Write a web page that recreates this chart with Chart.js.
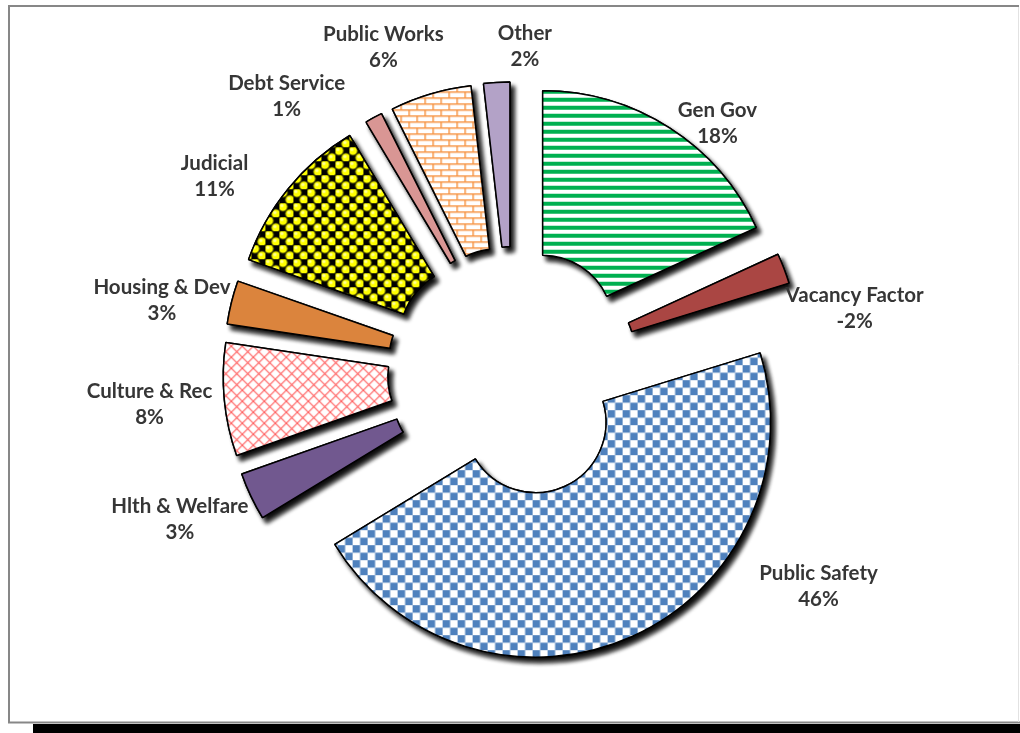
<!DOCTYPE html>
<html>
<head>
<meta charset="utf-8">
<script src="https://cdn.jsdelivr.net/npm/chart.js@4.4.0/dist/chart.umd.min.js"></script>
<style>
  body { margin: 0; background: #fff; }
  canvas { display: block; }
</style>
</head>
<body>
<canvas id="chart-gastos" width="1020" height="733"></canvas>
<script>
// Datos del grafico
var labelsGasto = ['Gen Gov', 'Vacancy Factor', 'Public Safety', 'Hlth & Welfare', 'Culture & Rec',
                   'Housing & Dev', 'Judicial', 'Debt Service', 'Public Works', 'Other'];
var dataGasto = [18.2, -2.1, 46.2, 3.3, 7.8, 3.0, 11.1, 1.2, 5.6, 1.8];

// donde va cada etiqueta, corrida desde el punto por fuera de su porcion
var labelNudge = [[21, 38], [24, 58], [166, -96], [-26, 2], [-25, 0],
                  [-21, 10], [-35, 19], [-63, 23], [-33, 1], [31, 14]];

var explode = 55;

// ******* TRAMAS **********

function hacerTrama(w, h, dibujar) {
    var c = document.createElement('canvas');
    c.width = w;
    c.height = h;
    var g = c.getContext('2d');
    g.fillStyle = '#fff';
    g.fillRect(0, 0, w, h);
    dibujar(g);
    return g.createPattern(c, 'repeat');
}

var tramaRayas = hacerTrama(8, 8, function (g) {
    g.fillStyle = '#00B050';
    g.fillRect(0, 0, 8, 4);
});

var tramaCuadros = hacerTrama(15, 15, function (g) {
    g.fillStyle = '#4F81BD';
    g.fillRect(0, 0, 7.5, 7.5);
    g.fillRect(7.5, 7.5, 7.5, 7.5);
});

var tramaRed = hacerTrama(11, 11, function (g) {
    g.strokeStyle = '#FF5A5A';
    g.lineWidth = 1.1;
    g.beginPath();
    g.moveTo(0, 0); g.lineTo(11, 11);
    g.moveTo(11, 0); g.lineTo(0, 11);
    g.stroke();
});

var tramaBolas = hacerTrama(14, 14, function (g) {
    g.fillStyle = '#000';
    g.fillRect(0, 0, 14, 14);
    [[3.5, 3.5], [10.5, 10.5]].forEach(function (p) {
        g.beginPath();
        g.arc(p[0], p[1], 4.6, 0, Math.PI * 2);
        g.fillStyle = '#FFFF00';
        g.fill();
        g.strokeStyle = '#3a3a00';
        g.lineWidth = 0.8;
        g.stroke();
        g.beginPath();
        g.arc(p[0] - 1, p[1] - 1.2, 1.6, 0, Math.PI * 2);
        g.fillStyle = '#ffff99';
        g.fill();
    });
});

var tramaLadrillo = hacerTrama(16, 12, function (g) {
    g.strokeStyle = '#F79646';
    g.lineWidth = 1.5;
    g.beginPath();
    g.moveTo(0, 0.75); g.lineTo(16, 0.75);
    g.moveTo(0, 6.75); g.lineTo(16, 6.75);
    g.moveTo(0.75, 0); g.lineTo(0.75, 6.75);
    g.moveTo(8.75, 6.75); g.lineTo(8.75, 12);
    g.stroke();
});

var rellenos = [tramaRayas, '#AA4643', tramaCuadros, '#71588F', tramaRed,
                '#DB843D', tramaBolas, '#D99694', tramaLadrillo, '#B3A2C7'];

// ******* PLUGIN DE DIBUJO **********

var pluginDibujo = {
    id: 'dibujo',
    beforeDraw: function (chart) {
        var ctx = chart.ctx;
        ctx.save();
        ctx.fillStyle = '#fff';
        ctx.fillRect(0, 0, chart.width, chart.height);
        ctx.fillStyle = '#000';
        ctx.fillRect(33, 724, chart.width - 33, 9);
        ctx.strokeStyle = '#878787';
        ctx.lineWidth = 2;
        ctx.beginPath();
        ctx.moveTo(9, 723); ctx.lineTo(9, 6); ctx.lineTo(1019, 6);
        ctx.moveTo(8, 722.5); ctx.lineTo(1020, 722.5);
        ctx.stroke();
        ctx.strokeStyle = '#e2e2e2';
        ctx.lineWidth = 1;
        ctx.beginPath();
        ctx.moveTo(1018.5, 7); ctx.lineTo(1018.5, 722);
        ctx.stroke();
        ctx.restore();
    },
    beforeDatasetsDraw: function (chart) {
        var ctx = chart.ctx;
        var arcs = chart.getDatasetMeta(0).data;
        arcs.forEach(function (arc) {
            var mid = (arc.startAngle + arc.endAngle) / 2;
            ctx.save();
            ctx.translate(Math.cos(mid) * explode, Math.sin(mid) * explode);
            // primero la sombra, despues la porcion limpia encima
            ctx.shadowColor = 'rgba(0, 0, 0, 0.95)';
            ctx.shadowBlur = 4;
            ctx.shadowOffsetX = 4;
            ctx.shadowOffsetY = 5;
            arc.draw(ctx);
            ctx.shadowColor = 'rgba(0, 0, 0, 0)';
            ctx.shadowBlur = 0;
            ctx.shadowOffsetX = 0;
            ctx.shadowOffsetY = 0;
            arc.draw(ctx);
            ctx.restore();
        });
        return false;
    },
    afterDraw: function (chart) {
        var ctx = chart.ctx;
        var arcs = chart.getDatasetMeta(0).data;
        var total = dataGasto.reduce(function (a, b) { return a + Math.abs(b); }, 0);
        ctx.save();
        ctx.font = 'bold 20.5px Lato';
        ctx.fillStyle = '#363636';
        ctx.textAlign = 'center';
        ctx.textBaseline = 'middle';
        arcs.forEach(function (arc, i) {
            var mid = (arc.startAngle + arc.endAngle) / 2;
            var r = arc.outerRadius + explode + 50;
            var x = arc.x + Math.cos(mid) * r + labelNudge[i][0];
            var y = arc.y + Math.sin(mid) * r + labelNudge[i][1];
            ctx.fillText(labelsGasto[i], x, y - 13);
            ctx.fillText(Math.round(dataGasto[i] / total * 100) + '%', x, y + 13);
        });
        ctx.restore();
    }
};

// ******* CHART **********

var contextoGasto = document.getElementById('chart-gastos').getContext('2d');
var chartGastos = new Chart(contextoGasto, {
    type: 'doughnut',
    data: {
        labels: labelsGasto,
        datasets: [{
            data: dataGasto,
            backgroundColor: rellenos,
            borderColor: '#000',
            borderWidth: 1.5,
            offset: 0
        }]
    },
    options: {
        responsive: false,
        animation: false,
        events: [],
        radius: 235,
        cutout: '30%',
        layout: {
            padding: { left: 6, top: 11 }
        },
        plugins: {
            legend: { display: false },
            tooltip: { enabled: false }
        }
    },
    plugins: [pluginDibujo]
});
</script>
</body>
</html>
